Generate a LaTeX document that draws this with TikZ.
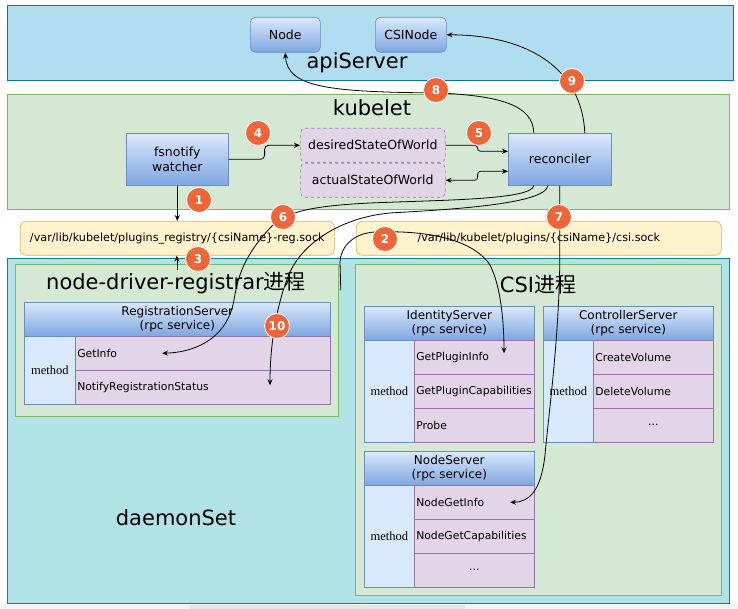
\documentclass[tikz,border=0pt]{standalone}
\usepackage{fontspec}
\setmainfont{DejaVu Sans}
\newfontfamily\cjk{Noto Sans CJK SC}
\newfontfamily\serifm{Liberation Serif}
\usetikzlibrary{arrows.meta,calc}
\definecolor{apiFill}{HTML}{B1DDF0}
\definecolor{apiLine}{HTML}{10739E}
\definecolor{grFill}{HTML}{D5E8D4}
\definecolor{grLine}{HTML}{82B366}
\definecolor{yeFill}{HTML}{FFF2CC}
\definecolor{yeLine}{HTML}{D6B656}
\definecolor{dsFill}{HTML}{B0E3E6}
\definecolor{dsLine}{HTML}{0E8088}
\definecolor{blTop}{HTML}{DAE8FC}
\definecolor{blBot}{HTML}{7EA6E0}
\definecolor{blLine}{HTML}{6C8EBF}
\definecolor{puFill}{HTML}{E1D5E7}
\definecolor{puLine}{HTML}{9673A6}
\definecolor{numFill}{HTML}{EE6539}
\definecolor{barA}{HTML}{F3F3F3}
\definecolor{barB}{HTML}{E4E4E4}
\tikzset{
  area/.style={draw, line width=0.8pt, anchor=north west, inner sep=0pt},
  gbox/.style={draw=blLine, line width=0.6pt, top color=blTop, bottom color=blBot, anchor=north west, inner sep=0pt, align=center, font=\fontsize{12.5}{15}\selectfont},
  hdr/.style={gbox, font=\fontsize{12}{13.5}\selectfont},
  mcell/.style={draw=blLine, line width=0.6pt, fill=blTop, anchor=north west, inner sep=0pt, font=\serifm\fontsize{12.5}{14}\selectfont},
  rcell/.style={draw=puLine, line width=0.6pt, fill=puFill, anchor=north west, minimum height=34pt, inner xsep=2pt, inner ysep=0pt, align=left, font=\fontsize{10.8}{12}\selectfont},
  dcell/.style={rcell, align=center},
  dbox/.style={draw=puLine, dashed, line width=0.6pt, fill=puFill, rounded corners=5pt, anchor=north west, inner sep=0pt, minimum width=145pt, minimum height=34pt, font=\fontsize{12.5}{15}\selectfont},
  ybox/.style={draw=yeLine, line width=0.6pt, fill=yeFill, rounded corners=6pt, anchor=north west, inner sep=0pt, minimum height=34pt, font=\fontsize{11.2}{13}\selectfont},
  title/.style={inner sep=0pt, font=\fontsize{21}{24}\selectfont},
  num/.style={circle, fill=numFill, draw=white, line width=0.8pt, minimum size=25pt, inner sep=0pt, text=white, font=\bfseries\fontsize{12}{12}\selectfont},
  arr/.style={-{Stealth[length=6pt,width=5pt]}, line width=0.8pt},
  arrb/.style={{Stealth[length=6pt,width=5pt]}-{Stealth[length=6pt,width=5pt]}, line width=0.8pt}
}
\begin{document}
\begin{tikzpicture}[x=1pt,y=-1pt]
\useasboundingbox (0,0) rectangle (738,609);
\fill[white] (0,0) rectangle (738,609);
\fill[barA] (0,605) rectangle (738,609);
\fill[barB] (190,605) rectangle (465,609);

% containers
\node[area, draw=apiLine, fill=apiFill, minimum width=726pt, minimum height=75pt] (api) at (7,5) {};
\node[area, draw=grLine, fill=grFill, minimum width=722pt, minimum height=115pt] (kub) at (7,94) {};
\node[area, draw=dsLine, fill=dsFill, minimum width=722pt, minimum height=345pt] (ds) at (7,258) {};
\node[area, draw=grLine, fill=grFill, minimum width=323pt, minimum height=152pt] (ndr) at (15,264) {};
\node[area, draw=grLine, fill=grFill, minimum width=366pt, minimum height=331pt] (csi) at (355,264) {};

% titles
\node[title] (apiT) at (357,63) {apiServer};
\node[title] (kubT) at (372,108) {kubelet};
\node[title] (ndrT) at (176,283) {node-driver-registrar{\cjk 进程}};
\node[title] (csiT) at (538,285) {CSI{\cjk 进程}};
\node[title] (dsT) at (176,518) {daemonSet};

% apiServer objects
\node[gbox, rounded corners=5pt, minimum width=70pt, minimum height=35pt] (nodeo) at (250,17) {Node};
\node[gbox, rounded corners=5pt, minimum width=71pt, minimum height=35pt] (csin) at (375,17) {CSINode};

% kubelet objects
\node[gbox, minimum width=102pt, minimum height=52pt] (fsn) at (126,133) {fsnotify\\watcher};
\node[dbox] (des) at (300,128) {desiredStateOfWorld};
\node[dbox] (act) at (300,163) {actualStateOfWorld};
\node[gbox, minimum width=103pt, minimum height=52pt] (rec) at (508,133) {reconciler};

% sockets
\node[ybox, minimum width=314pt] (regsock) at (20,221) {/var/lib/kubelet/plugins\_registry/\{csiName\}-reg.sock};
\node[ybox, minimum width=365pt] (csisock) at (356,221) {/var/lib/kubelet/plugins/\{csiName\}/csi.sock};

% RegistrationServer
\node[hdr, minimum width=306pt, minimum height=34pt] (regH) at (24,302) {RegistrationServer\\(rpc service)};
\node[mcell, minimum width=51pt, minimum height=68pt] (regM) at (24,336) {method};
\node[rcell, text width=251pt] (getinfo) at (75,336) {GetInfo};
\node[rcell, text width=251pt] (notify) at (75,370) {NotifyRegistrationStatus};

% IdentityServer
\node[hdr, minimum width=170pt, minimum height=34pt] (idH) at (364,306) {IdentityServer\\(rpc service)};
\node[mcell, minimum width=50pt, minimum height=102pt] (idM) at (364,340) {method};
\node[rcell, text width=116pt] (gpi) at (414,340) {GetPluginInfo};
\node[rcell, text width=116pt] (gpc) at (414,374) {GetPluginCapabilities};
\node[rcell, text width=116pt] (probe) at (414,408) {Probe};

% ControllerServer
\node[hdr, minimum width=170pt, minimum height=34pt] (ctH) at (543,306) {ControllerServer\\(rpc service)};
\node[mcell, minimum width=50pt, minimum height=102pt] (ctM) at (543,340) {method};
\node[rcell, text width=116pt] (cv) at (593,340) {CreateVolume};
\node[rcell, text width=116pt] (dv) at (593,374) {DeleteVolume};
\node[dcell, text width=116pt] (ctDots) at (593,408) {...};

% NodeServer
\node[hdr, minimum width=170pt, minimum height=34pt] (nsH) at (364,451) {NodeServer\\(rpc service)};
\node[mcell, minimum width=50pt, minimum height=102pt] (nsM) at (364,485) {method};
\node[rcell, text width=116pt] (ngi) at (414,485) {NodeGetInfo};
\node[rcell, text width=116pt] (ngc) at (414,519) {NodeGetCapabilities};
\node[dcell, text width=116pt] (nsDots) at (414,553) {...};

% connectors
\draw[arr] (fsn.south) -- (fsn.south |- regsock.north);
\draw[arr] ($(ndr.north)+(0,6)$) -- (ndr.north |- regsock.south);
\draw[arr, rounded corners=4pt] (fsn.east) -- ++(36,0) |- (des.west);
\draw[arr, rounded corners=3pt] (des.east) -- ++(32,0) |- ($(rec.west)+(0,-8)$);
\draw[arrb, rounded corners=3pt] (act.east) -- ++(32,0) |- ($(rec.west)+(0,12)$);
\draw[arr] ($(rec.north)+(-26,0)$) .. controls (533,105) and (500,96) .. (440,93)
   .. controls (330,92) and (287,88) .. (nodeo.south);
\draw[arr] ($(rec.north)+(25,0)$) .. controls (582,70) and (530,35) .. (csin.east);
\draw[arr] ($(rec.south)+(-26,0)$) .. controls (532,200) and (440,200) .. (370,203)
   .. controls (310,206) and (285,212) .. (270,228)
   .. controls (245,255) and (238,275) .. (234,300)
   .. controls (228,335) and (200,352) .. ($(getinfo.west)+(87,0)$);
\draw[arr] ($(rec.south)+(-12,0)$) .. controls (546,205) and (440,210) .. (390,213)
   .. controls (345,217) and (305,240) .. (290,272)
   .. controls (278,300) and (270,340) .. ($(notify.west)+(195,-2)$);
\draw[arr] ($(ndr.east)+(2,-50)$) -- (340,262) .. controls (341,245) and (355,233) .. (375,232)
   .. controls (430,230) and (470,240) .. (488,262)
   .. controls (500,280) and (504,320) .. ($(gpi.west)+(90,-4)$);
\draw[arr] (rec.south) -- ++(0,75) .. controls (559,340) and (548,420) .. (545,455)
   .. controls (541,490) and (530,502) .. ($(ngi.west)+(96,0)$);

% step markers
\node[num] (n1) at (199,200) {1};
\node[num] (n2) at (385,239) {2};
\node[num] (n3) at (198,259) {3};
\node[num] (n4) at (258,133) {4};
\node[num] (n5) at (479,133) {5};
\node[num] (n6) at (283,217) {6};
\node[num] (n7) at (559,217) {7};
\node[num] (n8) at (436,90) {8};
\node[num] (n9) at (572,81) {9};
\node[num] (n10) at (277,326) {10};
\end{tikzpicture}
\end{document}
